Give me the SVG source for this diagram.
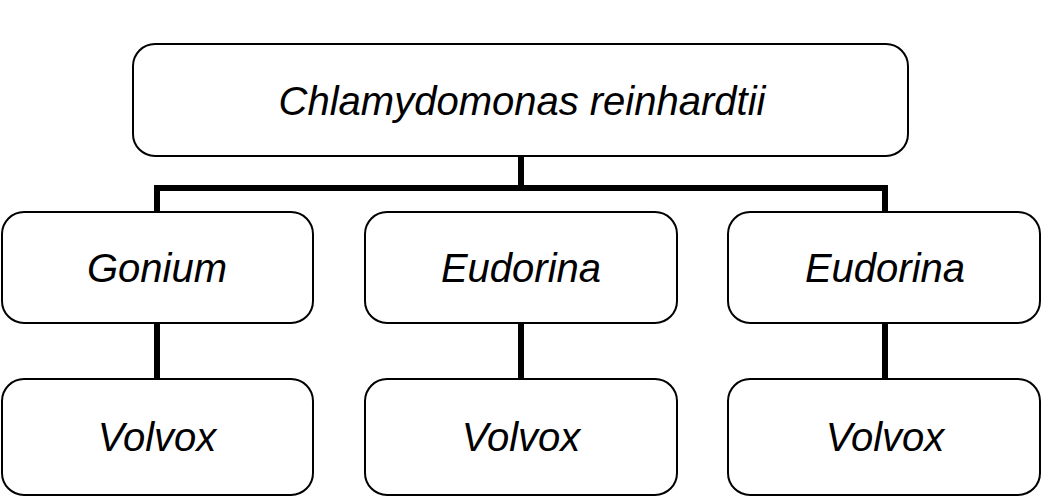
<svg xmlns="http://www.w3.org/2000/svg" width="1044" height="497" viewBox="0 0 1044 497">
<style>
.box{fill:#fff;stroke:#000;stroke-width:2}
.lbl{font-family:"Liberation Sans",Arial,sans-serif;font-style:italic;font-size:40px;fill:#000;text-anchor:middle}
.conn{fill:none;stroke:#000;stroke-width:6;stroke-linejoin:miter}
</style>
<rect width="1044" height="497" fill="#fff"/>
<g id="connectors">
<path class="conn" d="M521,156 V188 M157,212 V188 H885 V212"/>
<path class="conn" d="M157,323 V379 M521,323 V379 M885,323 V379"/>
</g>
<g id="n-chlamy"><rect class="box" x="133" y="44" width="775" height="112" rx="22"/><text class="lbl" x="522" y="115">Chlamydomonas reinhardtii</text></g>
<g id="n-gonium"><rect class="box" x="2" y="212" width="311" height="111" rx="22"/><text class="lbl" x="157" y="282">Gonium</text></g>
<g id="n-eudorina1"><rect class="box" x="365" y="212" width="312" height="111" rx="22"/><text class="lbl" x="521" y="282">Eudorina</text></g>
<g id="n-eudorina2"><rect class="box" x="728" y="212" width="312" height="111" rx="22"/><text class="lbl" x="885" y="282">Eudorina</text></g>
<g id="n-volvox1"><rect class="box" x="2" y="379" width="311" height="116" rx="22"/><text class="lbl" x="157" y="451">Volvox</text></g>
<g id="n-volvox2"><rect class="box" x="365" y="379" width="312" height="116" rx="22"/><text class="lbl" x="521" y="451">Volvox</text></g>
<g id="n-volvox3"><rect class="box" x="728" y="379" width="312" height="116" rx="22"/><text class="lbl" x="885" y="451">Volvox</text></g>
</svg>
